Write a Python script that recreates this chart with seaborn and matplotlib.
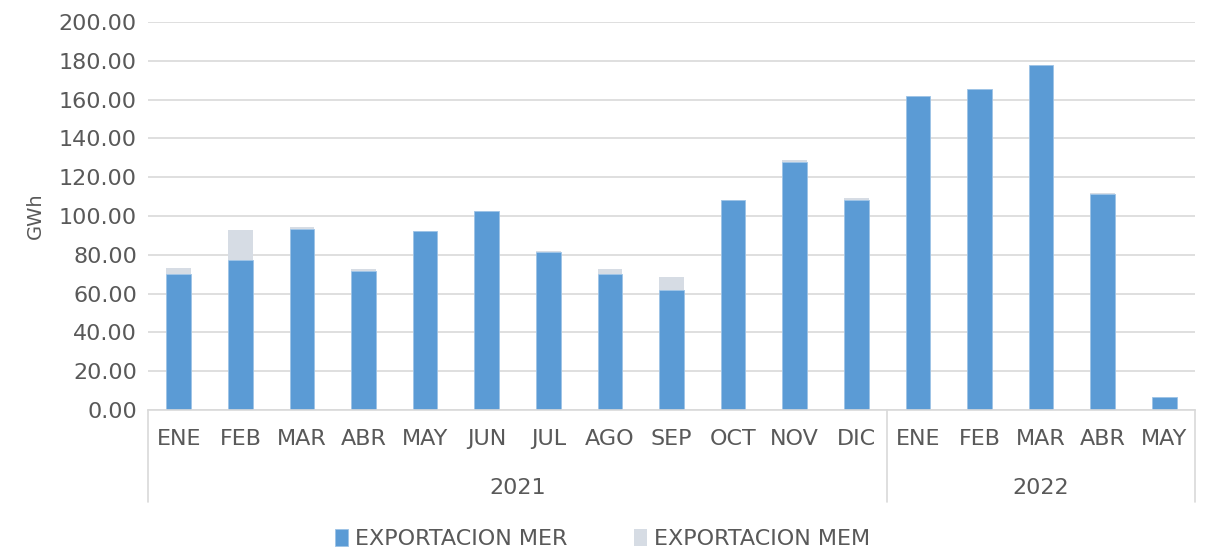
import pandas as pd
import numpy as np
import matplotlib
matplotlib.use('Agg')
import matplotlib.pyplot as plt
import seaborn as sns

# Data (GWh)
months = ['ENE', 'FEB', 'MAR', 'ABR', 'MAY', 'JUN', 'JUL', 'AGO', 'SEP', 'OCT', 'NOV', 'DIC',
          'ENE', 'FEB', 'MAR', 'ABR', 'MAY']
years = ['2021'] * 12 + ['2022'] * 5
exp_mer = [70.1, 77.3, 93.3, 71.6, 92.3, 102.6, 81.4, 70.1, 61.9, 108.2, 127.8, 108.2,
           161.9, 165.5, 177.8, 111.3, 6.7]
exp_mem = [3.1, 15.5, 1.0, 1.1, 0.0, 0.0, 0.5, 2.6, 6.7, 0.0, 1.1, 1.1,
           0.0, 0.0, 0.0, 0.5, 0.0]
year_labels = ['2021', '2022']

df = pd.DataFrame({'pos': range(len(months)), 'mes': months, 'anio': years,
                   'mer': exp_mer, 'mem': exp_mem})

sns.set_theme(style='white')
plt.rcParams['font.family'] = ['DejaVu Sans']
txt = '#595959'
fs = 16

fig = plt.figure(figsize=(12.05, 5.51), dpi=100)
ax = fig.add_axes([148 / 1205, 1 - 410 / 551, (1195 - 148) / 1205, (410 - 22) / 551])

# stacked bars
sns.barplot(data=df, x='pos', y='mer', color='#5B9BD5', width=0.4, ax=ax,
            label='EXPORTACION MER', saturation=1, edgecolor='#9DC3E6', linewidth=0.6)
sns.barplot(data=df, x='pos', y='mem', color='#D6DCE4', width=0.4, ax=ax,
            bottom=df['mer'], label='EXPORTACION MEM', saturation=1, linewidth=0)
handles, labels = ax.get_legend_handles_labels()
if ax.get_legend() is not None:
    ax.get_legend().remove()

ax.set_ylim(0, 200)
ax.set_xlim(-0.5, len(months) - 0.5)
ax.set_yticks(np.arange(0, 201, 20))
ax.set_yticklabels([f'{v:.2f}' for v in np.arange(0, 201, 20)], fontsize=fs, color=txt)
ax.yaxis.grid(True, color='#D9D9D9', linewidth=1.2)
ax.set_axisbelow(True)
ax.set_xticks(range(len(months)))
ax.set_xticklabels(months, fontsize=fs, color=txt)
ax.tick_params(axis='x', length=0, pad=14)
ax.tick_params(axis='y', length=0, pad=8)
ax.set_xlabel('')
ax.set_ylabel('GWh', fontsize=14, color=txt, labelpad=10)
for s in ['top', 'right', 'left']:
    ax.spines[s].set_visible(False)
ax.spines['bottom'].set_color('#D9D9D9')
ax.spines['bottom'].set_linewidth(1.2)

# multi-level category axis: year labels and separators
trans = ax.get_xaxis_transform()
bounds = [-0.5, 11.5, 16.5]
for b in bounds:
    ax.plot([b, b], [0, -0.237], transform=trans, color='#D9D9D9', lw=1.2, clip_on=False)
for y in year_labels:
    sub = df[df['anio'] == y]['pos']
    ax.text(sub.mean(), -0.2, y, transform=trans, ha='center', va='center',
            fontsize=fs, color=txt)

fig.legend(handles, labels, loc='center', bbox_to_anchor=(0.5, 1 - 539 / 551), ncol=2,
           frameon=False, fontsize=fs, labelcolor=txt, handlelength=0.6, handleheight=0.8,
           handletextpad=0.3, columnspacing=3)

fig.savefig('out.png', dpi=100, facecolor='white')
